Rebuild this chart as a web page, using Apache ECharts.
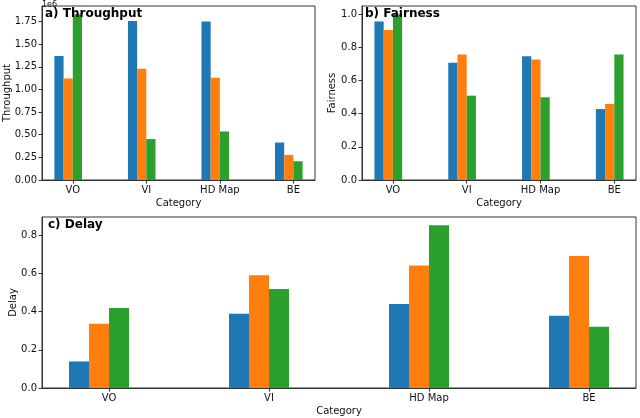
<!DOCTYPE html>
<html>
<head>
<meta charset="utf-8">
<script src="https://cdn.jsdelivr.net/npm/echarts@6/dist/echarts.min.js"></script>
<style>html,body{margin:0;padding:0;background:#fff}#c{width:640px;height:418px}</style>
</head>
<body>
<div id="c"></div>
<script>
const categories = ['VO', 'VI', 'HD Map', 'BE'];
const seriesNames = ['s1', 's2', 's3'];
const colors = ['#1f77b4', '#ff7f0e', '#2ca02c'];

const throughputA = [1368000, 1757000, 1750000, 414000];
const throughputB = [1121000, 1228000, 1129000, 277000];
const throughputC = [1830000, 452000, 536000, 207000];

const fairnessA = [0.956, 0.707, 0.747, 0.428];
const fairnessB = [0.905, 0.758, 0.727, 0.459];
const fairnessC = [1.0, 0.509, 0.499, 0.758];

const delayA = [0.139, 0.389, 0.440, 0.379];
const delayB = [0.337, 0.591, 0.642, 0.691];
const delayC = [0.419, 0.519, 0.853, 0.321];

const throughputTicks = [0, 250000, 500000, 750000, 1000000, 1250000, 1500000, 1750000];
const fairnessTicks = [0, 0.2, 0.4, 0.6, 0.8, 1.0];
const delayTicks = [0, 0.2, 0.4, 0.6, 0.8];

const barW = 0.125;
const FONT = 'DejaVu Sans';
const TXT = '#111';

const n = categories.length;
const span = (n - 1) + 3 * barW;
const xMin = -2 * barW - 0.05 * span;
const xMax = (n - 1) + barW + 0.05 * span;
const catIdx = categories.map((c, i) => i);

function ymax(arrs) { return Math.max(...arrs.flat()) * 1.05; }

const W = 640;
const grids = [
  { left: 42, right: 325, top: 6, bottom: 238 },
  { left: 362, right: 4, top: 6, bottom: 238 },
  { left: 42, right: 4, top: 217, bottom: 30 }
];
const panels = [
  { title: 'a) Throughput', yname: 'Throughput', data: [throughputA, throughputB, throughputC], ticks: throughputTicks, fmt: v => (v / 1e6).toFixed(2), nameGap: 30 },
  { title: 'b) Fairness', yname: 'Fairness', data: [fairnessA, fairnessB, fairnessC], ticks: fairnessTicks, fmt: v => v.toFixed(1), nameGap: 25 },
  { title: 'c) Delay', yname: 'Delay', data: [delayA, delayB, delayC], ticks: delayTicks, fmt: v => v.toFixed(1), nameGap: 24 }
];

const option = {
  animation: false,
  textStyle: { fontFamily: FONT },
  title: [],
  grid: grids.map(g => Object.assign({ show: true, borderColor: '#333', borderWidth: 1, containLabel: false, outerBoundsMode: 'none' }, g)),
  xAxis: [],
  yAxis: [],
  series: []
};

panels.forEach((p, gi) => {
  const g = grids[gi];
  const gw = W - g.left - g.right;
  option.title.push({
    text: p.title, left: Math.round(g.left + 0.01 * gw), top: g.top + 2, padding: 0,
    textStyle: { fontFamily: FONT, fontSize: 12, fontWeight: 'bold', color: '#000' }
  });
  option.xAxis.push({
    type: 'value', gridIndex: gi, min: xMin, max: xMax, position: 'bottom',
    name: 'Category', nameLocation: 'middle', nameGap: 18, nameMoveOverlap: false,
    nameTextStyle: { fontFamily: FONT, fontSize: 10, color: TXT },
    splitLine: { show: false },
    axisLine: { show: true, onZero: false, lineStyle: { color: '#333', width: 1 } },
    axisTick: { show: true, length: 3.5, customValues: catIdx, lineStyle: { color: '#333' } },
    axisLabel: { customValues: catIdx, formatter: v => categories[Math.round(v)], fontFamily: FONT, fontSize: 10, color: TXT, margin: 5 }
  });
  option.yAxis.push({
    type: 'value', gridIndex: gi, min: 0, max: ymax(p.data), position: 'left',
    name: p.yname, nameLocation: 'middle', nameGap: p.nameGap, nameMoveOverlap: false,
    nameTextStyle: { fontFamily: FONT, fontSize: 10, color: TXT },
    splitLine: { show: false },
    axisLine: { show: true, onZero: false, lineStyle: { color: '#333', width: 1 } },
    axisTick: { show: true, length: 3.5, customValues: p.ticks, lineStyle: { color: '#333' } },
    axisLabel: { customValues: p.ticks, formatter: p.fmt, fontFamily: FONT, fontSize: 10, color: TXT, margin: 5 }
  });
  p.data.forEach((arr, si) => {
    option.series.push({
      type: 'bar', name: seriesNames[si], xAxisIndex: gi, yAxisIndex: gi,
      barWidth: (barW * 100) + '%', barGap: '0%',
      itemStyle: { color: colors[si] },
      data: arr.map((v, i) => [i, v])
    });
  });
  // empty spacer series so the tick sits at the 2nd/3rd bar boundary, as in the source
  option.series.push({
    type: 'bar', name: 'spacer', xAxisIndex: gi, yAxisIndex: gi,
    barWidth: (barW * 100) + '%', barGap: '0%', data: []
  });
});

option.title.push({
  text: '1e6', left: 42, top: 1, padding: 0,
  textStyle: { fontFamily: FONT, fontSize: 8, fontWeight: 'normal', color: TXT, lineHeight: 8 }
});

const chart = echarts.init(document.getElementById('c'), null, { renderer: 'canvas' });
chart.setOption(option);
</script>
</body>
</html>
